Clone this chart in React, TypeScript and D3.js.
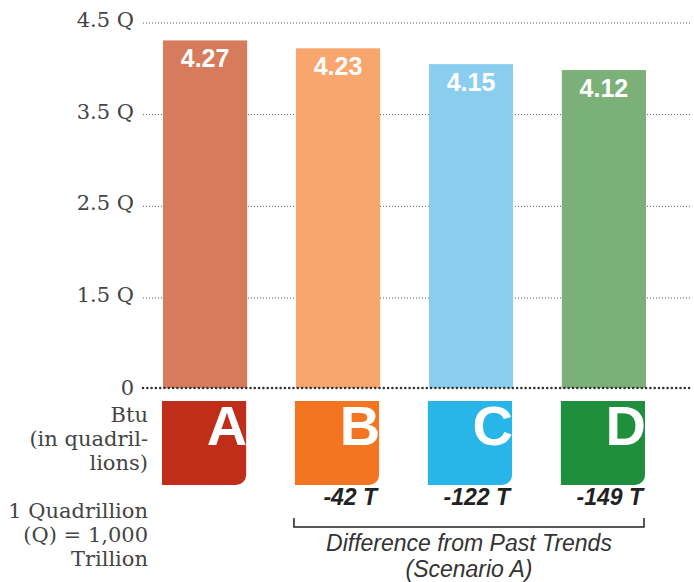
import React from 'react';
import * as d3 from 'd3';

const scenarios = ['A', 'B', 'C', 'D'];
const values = [4.27, 4.23, 4.15, 4.12];
const diffTrillions: (number | null)[] = [null, -42, -122, -149];
const tickValues = [1.5, 2.5, 3.5, 4.5];
const tickLabels = ['1.5 Q', '2.5 Q', '3.5 Q', '4.5 Q'];
const zeroLabel = '0';
const barColors = ['#D67B5C', '#F8A66E', '#8ACDEF', '#7BB078'];
const boxColors = ['#C02E19', '#F47521', '#28B5E8', '#1F8F3D'];
const unitLines = ['Btu', '(in quadril-', 'lions)'];
const noteLines = ['1 Quadrillion', '(Q) = 1,000', 'Trillion'];
const captionLines = ['Difference from Past Trends', '(Scenario A)'];

const W = 694;
const H = 582;
const BASELINE = 388;
const GRID_X0 = 143;
const GRID_X1 = 690;

export default function App() {
  const x = d3.scaleBand<string>().domain(scenarios).range([163, 646]).paddingInner(0.367).paddingOuter(0);
  const axisY = d3.scaleLinear().domain([1.5, 4.5]).range([298, 23]);
  const barY = d3.scaleLinear().domain([2.51, 4.5]).range([BASELINE, -5]);

  const serif = '"DejaVu Serif", "Liberation Serif", serif';
  const sans = '"Liberation Sans", Arial, sans-serif';
  const boxTop = 401;
  const boxBottom = 485;
  const r = 10;

  const boxPath = (x0: number, x1: number) =>
    `M${x0},${boxTop}H${x1}V${boxBottom - r}A${r},${r} 0 0 1 ${x1 - r},${boxBottom}H${x0}Z`;

  const bw = x.bandwidth();
  const bStart = x('B')! - 2;
  const dEnd = x('D')! + bw - 2;

  return (
    <svg width={W} height={H} style={{ position: 'absolute', left: 0, top: 0, background: '#fff' }}>
      {/* gridlines */}
      {tickValues.map((t) => (
        <line key={t} x1={GRID_X0} x2={GRID_X1} y1={axisY(t)} y2={axisY(t)} stroke="#555" strokeWidth={1} strokeDasharray="1 2" />
      ))}
      {tickValues.map((t, i) => (
        <text key={'l' + t} x={134} y={axisY(t) + 4} textAnchor="end" fontFamily={serif} fontSize={21} fill="#444">
          {tickLabels[i]}
        </text>
      ))}
      <text x={134} y={BASELINE + 7} textAnchor="end" fontFamily={serif} fontSize={21} fill="#444">{zeroLabel}</text>

      {/* bars */}
      {scenarios.map((s, i) => (
        <g key={s}>
          <rect x={x(s)} y={barY(values[i])} width={bw} height={BASELINE - barY(values[i])} fill={barColors[i]} />
          <text x={x(s)! + bw / 2} y={barY(values[i]) + 27} textAnchor="middle" fontFamily={sans} fontWeight="bold" fontSize={25} fill="#fff">
            {values[i].toFixed(2)}
          </text>
        </g>
      ))}

      {/* baseline */}
      <line x1={GRID_X0} x2={GRID_X1} y1={BASELINE} y2={BASELINE} stroke="#333" strokeWidth={2.6} strokeDasharray="0 4.3" strokeLinecap="round" />

      {/* scenario boxes */}
      {scenarios.map((s, i) => {
        const x0 = x(s)! - 1;
        const x1 = x(s)! + bw - 1;
        return (
          <g key={'b' + s}>
            <path d={boxPath(x0, x1)} fill={boxColors[i]} />
            <text x={x1 + 1} y={445} textAnchor="end" fontFamily={sans} fontWeight="bold" fontSize={56} fill="#fff">{s}</text>
            {diffTrillions[i] !== null && (
              <text x={x1 - 2} y={505} textAnchor="end" fontFamily={sans} fontWeight="bold" fontStyle="italic" fontSize={23} fill="#222">
                {`${diffTrillions[i]} T`}
              </text>
            )}
          </g>
        );
      })}

      {/* bracket */}
      <path d={`M${bStart},518V527H${dEnd}V518`} fill="none" stroke="#222" strokeWidth={1.5} />
      {captionLines.map((c, i) => (
        <text key={c} x={(bStart + dEnd) / 2} y={551 + i * 26} textAnchor="middle" fontFamily={sans} fontStyle="italic" fontSize={23} fill="#333">{c}</text>
      ))}

      {/* left notes */}
      {unitLines.map((l, i) => (
        <text key={l} x={148} y={422 + i * 24} textAnchor="end" fontFamily={serif} fontSize={21} fill="#444">{l}</text>
      ))}
      {noteLines.map((l, i) => (
        <text key={l} x={148} y={518 + i * 24} textAnchor="end" fontFamily={serif} fontSize={21} fill="#444">{l}</text>
      ))}
    </svg>
  );
}
